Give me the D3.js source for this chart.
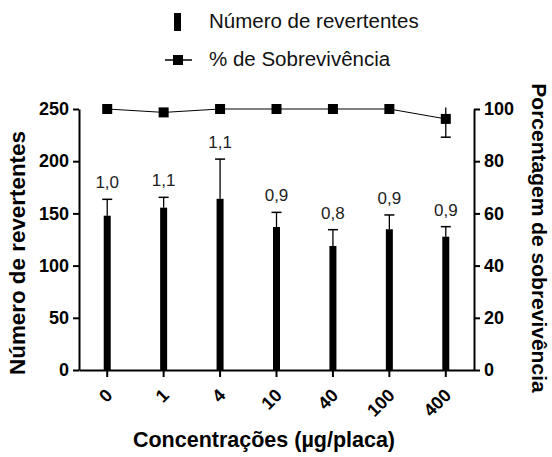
<!DOCTYPE html>
<html><head><meta charset="utf-8">
<script src="https://cdn.jsdelivr.net/npm/d3@7"></script>
<style>body{margin:0;background:#fff} svg{display:block;font-family:"Liberation Sans",Arial,sans-serif}</style>
</head><body><svg width="552" height="457"></svg>
<script>
const categories = ["0","1","4","10","40","100","400"];
const revertentes = [147.8,155.5,164,137,118.8,134.8,127.7];
const revertentesErr = [15.7,9.9,38,14,15.6,13.7,9.6];
const ratioLabels = ["1,0","1,1","1,1","0,9","0,8","0,9","0,9"];
const sobrevivencia = [100,98.7,100,100,100,100,96.2];
const sobrevivenciaErr = [0,0,0,0,0,0,7];
const leftTicks = [0,50,100,150,200,250];
const rightTicks = [0,20,40,60,80,100];

const svg = d3.select("svg");
const L = 79, R = 474, T = 109, B = 370;
const x = d3.scaleBand().domain(categories).range([L, R]);
const yL = d3.scaleLinear().domain([0,250]).range([B, T]);
const yR = d3.scaleLinear().domain([0,100]).range([B, T]);
const cx = d => x(d) + x.bandwidth()/2;

// bars
const bw = 7;
svg.append("g").selectAll("rect").data(categories).join("rect")
  .attr("x", d => cx(d) - bw/2).attr("width", bw)
  .attr("y", (d,i) => yL(revertentes[i])).attr("height", (d,i) => B - yL(revertentes[i]))
  .attr("fill", "#000");
// error bars (upper)
const eg = svg.append("g").attr("stroke", "#000");
categories.forEach((c,i) => {
  const top = yL(revertentes[i] + revertentesErr[i]);
  eg.append("line").attr("x1", cx(c)).attr("x2", cx(c)).attr("y1", yL(revertentes[i])).attr("y2", top).attr("stroke-width", 1.3);
  eg.append("line").attr("x1", cx(c)-5).attr("x2", cx(c)+5).attr("y1", top).attr("y2", top).attr("stroke-width", 1.5);
  svg.append("text").attr("x", cx(c)).attr("y", top - 11).attr("text-anchor", "middle")
    .attr("font-size", 17).attr("fill", "#222").text(ratioLabels[i]);
});

// survival line
const line = d3.line().x((d,i) => cx(categories[i])).y(d => yR(d));
svg.append("path").datum(sobrevivencia).attr("d", line).attr("fill", "none").attr("stroke", "#000").attr("stroke-width", 1);
categories.forEach((c,i) => {
  if (sobrevivenciaErr[i] > 0) {
    const lo = yR(sobrevivencia[i] - sobrevivenciaErr[i]);
    const hi = Math.max(yR(sobrevivencia[i] + sobrevivenciaErr[i]), T - 1.5);
    svg.append("line").attr("x1", cx(c)).attr("x2", cx(c)).attr("y1", hi).attr("y2", lo).attr("stroke", "#000").attr("stroke-width", 1.3);
    svg.append("line").attr("x1", cx(c)-5).attr("x2", cx(c)+5).attr("y1", lo).attr("y2", lo).attr("stroke", "#000").attr("stroke-width", 1.5);
  }
});
const sq = 10;
svg.append("g").selectAll("rect").data(sobrevivencia).join("rect")
  .attr("x", (d,i) => cx(categories[i]) - sq/2).attr("y", d => yR(d) - sq/2)
  .attr("width", sq).attr("height", sq).attr("fill", "#000");

// axes
function styleAxis(g) {
  g.selectAll("path.domain").attr("stroke", "#000").attr("stroke-width", 2);
  g.selectAll(".tick line").attr("stroke", "#000").attr("stroke-width", 2);
  g.selectAll(".tick text").attr("fill", "#000").attr("font-size", 18).attr("font-weight", "bold")
    .attr("font-family", '"Liberation Sans",Arial,sans-serif');
}
svg.append("g").attr("transform", `translate(${L},0)`)
  .call(d3.axisLeft(yL).tickValues(leftTicks).tickSize(6).tickSizeOuter(0).tickPadding(4))
  .call(styleAxis);
svg.append("g").attr("transform", `translate(${R},0)`)
  .call(d3.axisRight(yR).tickValues(rightTicks).tickSize(6).tickSizeOuter(0).tickPadding(4))
  .call(styleAxis);
const xa = svg.append("g").attr("transform", `translate(0,${B})`)
  .call(d3.axisBottom(x).tickSize(7).tickSizeOuter(0))
  .call(styleAxis);
xa.selectAll(".tick text").attr("text-anchor", "end")
  .attr("transform", "translate(2,22) rotate(-45)").attr("y", 0).attr("x", 0).attr("dy", "0.35em");

// axis titles
svg.append("text").attr("transform", "translate(25,253) rotate(-90)").attr("text-anchor", "middle")
  .attr("font-size", 22.4).attr("font-weight", "bold").text("Número de revertentes");
svg.append("text").attr("transform", "translate(532,238) rotate(90)").attr("text-anchor", "middle")
  .attr("font-size", 21).attr("font-weight", "bold").text("Porcentagem de sobrevivência");
svg.append("text").attr("x", 264).attr("y", 447).attr("text-anchor", "middle")
  .attr("font-size", 21.5).attr("font-weight", "bold").text("Concentrações (µg/placa)");

// legend
const lg = svg.append("g");
lg.append("rect").attr("x", 174).attr("y", 13).attr("width", 7).attr("height", 18).attr("fill", "#000");
lg.append("text").attr("x", 209).attr("y", 28).attr("font-size", 20.5).attr("fill", "#111").text("Número de revertentes");
lg.append("line").attr("x1", 165).attr("x2", 192).attr("y1", 60).attr("y2", 60).attr("stroke", "#000").attr("stroke-width", 1.5);
lg.append("rect").attr("x", 173).attr("y", 55).attr("width", 10).attr("height", 10).attr("fill", "#000");
lg.append("text").attr("x", 209).attr("y", 66).attr("font-size", 20.5).attr("fill", "#111").text("% de Sobrevivência");
</script></body></html>
